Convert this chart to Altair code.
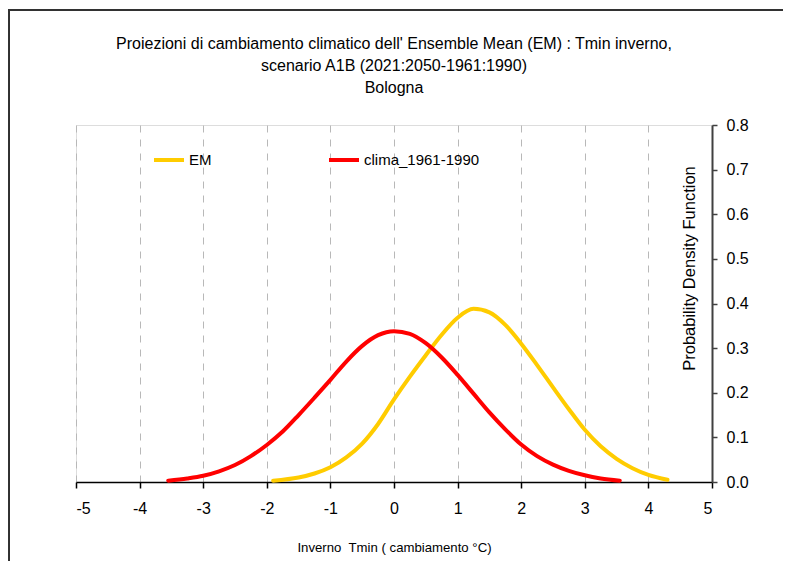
import altair as alt
import pandas as pd

# Series
clima_x = [-3.55, -3.25, -3.0, -2.75, -2.5, -2.25, -2.0, -1.75, -1.5, -1.25, -1.0, -0.75, -0.5, -0.25,
           0.0, 0.25, 0.5, 0.75, 1.0, 1.25, 1.5, 1.75, 2.0, 2.25, 2.5, 2.75, 3.0, 3.25, 3.55]
clima_y = [0.003, 0.008, 0.014, 0.024, 0.038, 0.058, 0.083, 0.113, 0.150, 0.189, 0.229, 0.270, 0.305, 0.329,
           0.338, 0.332, 0.311, 0.279, 0.240, 0.198, 0.156, 0.118, 0.084, 0.058, 0.039, 0.025, 0.015, 0.008, 0.003]

em_x = [-1.9, -1.5, -1.25, -1.0, -0.75, -0.5, -0.25, 0.0, 0.25, 0.5, 0.75, 1.0, 1.25, 1.5, 1.75,
        2.0, 2.25, 2.5, 2.75, 3.0, 3.25, 3.5, 3.75, 4.0, 4.3]
em_y = [0.003, 0.010, 0.019, 0.033, 0.055, 0.086, 0.130, 0.185, 0.236, 0.284, 0.330, 0.368, 0.388, 0.380, 0.352,
        0.310, 0.262, 0.212, 0.163, 0.117, 0.080, 0.052, 0.031, 0.016, 0.005]

series_names = ["EM", "clima_1961-1990"]
series_colors = ["#FFCC00", "#FF0000"]

x_ticks = [-5, -4, -3, -2, -1, 0, 1, 2, 3, 4, 5]
y_ticks = [0.0, 0.1, 0.2, 0.3, 0.4, 0.5, 0.6, 0.7, 0.8]

title_lines = ["Proiezioni di cambiamento climatico dell' Ensemble Mean (EM) : Tmin inverno,",
               "scenario A1B (2021:2050-1961:1990)",
               "Bologna"]

rows = []
for xv, yv in zip(em_x, em_y):
    rows.append({"serie": "EM", "x": xv, "y": yv})
for xv, yv in zip(clima_x, clima_y):
    rows.append({"serie": "clima_1961-1990", "x": xv, "y": yv})
df = pd.DataFrame(rows)

FONT = "Liberation Sans"

lines = alt.Chart(df).mark_line(strokeWidth=4, strokeCap="round", interpolate="monotone").encode(
    x=alt.X("x:Q",
            scale=alt.Scale(domain=[-5, 5], nice=False, zero=False),
            axis=alt.Axis(values=x_ticks, labelExpr="'' + datum.value",
                          title="Inverno\u00a0 Tmin ( cambiamento °C)",
                          grid=True, gridDash=[7, 7], gridColor="#b8b8b8", gridWidth=1,
                          domainColor="#000000", domainWidth=1.5, tickColor="#000000", tickSize=6,
                          tickWidth=1.5, labelFontSize=16, labelFont=FONT, labelColor="#000000",
                          labelPadding=12, titleFontSize=13.2, titleFont=FONT, titleFontWeight="normal",
                          titleColor="#000000", titlePadding=25)),
    y=alt.Y("y:Q",
            scale=alt.Scale(domain=[0, 0.8], nice=False),
            axis=alt.Axis(orient="right", values=y_ticks, format=".1f",
                          title="Probability Density Function", grid=False,
                          domainColor="#404040", domainWidth=2, tickColor="#404040", tickSize=5,
                          tickWidth=1.5, labelFontSize=16, labelFont=FONT, labelColor="#000000",
                          labelPadding=9, titleFontSize=16.5, titleFont=FONT, titleFontWeight="normal",
                          titleColor="#000000", titleAngle=270, titleX=-23, titleY=143,
                          titleAlign="center", titleBaseline="middle")),
    color=alt.Color("serie:N",
                    scale=alt.Scale(domain=series_names, range=series_colors),
                    legend=alt.Legend(title=None, orient="none", legendX=76, legendY=18,
                                      direction="horizontal", symbolType="stroke",
                                      symbolSize=900, symbolStrokeWidth=4,
                                      labelFontSize=15, labelFont=FONT, labelColor="#000000",
                                      labelOffset=3, columnPadding=109)),
    order="x:Q",
)

frame_left = alt.Chart(df).mark_rule(color="#333333", strokeWidth=1.5).encode(
    x=alt.value(-67.5), y=alt.value(-115), y2=alt.value(460))
frame_top = alt.Chart(df).mark_rule(color="#333333", strokeWidth=1.5).encode(
    x=alt.value(-67.5), x2=alt.value(720), y=alt.value(-115))

chart = alt.layer(frame_left, frame_top, lines).properties(
    width=636, height=357,
    autosize=alt.AutoSizeParams(type="none"),
    padding={"left": 68, "top": 117, "right": 71, "bottom": 79},
    title=alt.TitleParams(text=title_lines, anchor="middle", frame="group", fontSize=16, font=FONT,
                          fontWeight="normal", color="#000000", lineHeight=22, offset=26, dy=113),
).configure_view(stroke="#404040", strokeWidth=1.5).configure(background="white")

chart.save("out.html", embed_options={"renderer": "svg", "actions": False})
